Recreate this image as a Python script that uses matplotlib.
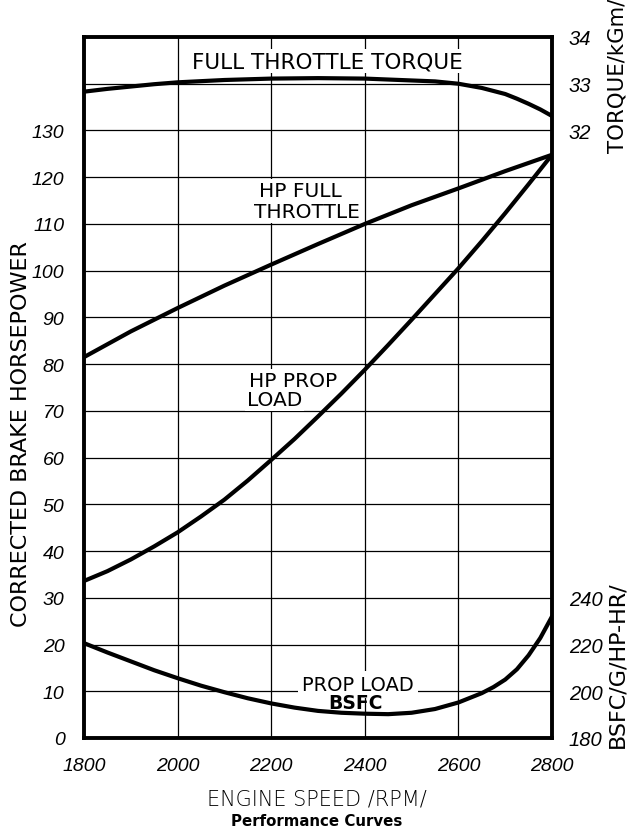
import numpy as np
import matplotlib
matplotlib.use("Agg")
import matplotlib.pyplot as plt

# --- Engine test data ---
rpm = [1800, 1900, 2000, 2100, 2200, 2300, 2400, 2500, 2600, 2700, 2800]
hp_full_throttle = [81.5, 87.0, 92.0, 96.8, 101.3, 105.7, 110.0, 114.0, 117.6, 121.3, 124.8]

prop_rpm = [1800, 1850, 1900, 1950, 2000, 2050, 2100, 2150, 2200, 2250, 2300,
            2350, 2400, 2450, 2500, 2550, 2600, 2650, 2700, 2750, 2800]
hp_prop_load = [33.6, 35.7, 38.2, 41.0, 44.0, 47.4, 51.0, 55.1, 59.5, 64.0, 68.8,
                73.7, 78.8, 84.1, 89.5, 95.0, 100.5, 106.3, 112.3, 118.5, 124.8]

torque_rpm = [1800, 1850, 1900, 1950, 2000, 2100, 2200, 2300, 2400, 2500, 2550,
              2600, 2650, 2700, 2725, 2750, 2775, 2800]
torque_kgm = [32.83, 32.89, 32.94, 32.99, 33.03, 33.08, 33.11, 33.12, 33.11, 33.07, 33.05,
              33.00, 32.91, 32.78, 32.68, 32.57, 32.45, 32.31]

bsfc_rpm = [1800, 1850, 1900, 1950, 2000, 2050, 2100, 2150, 2200, 2250, 2300, 2350,
            2400, 2450, 2500, 2550, 2600, 2650, 2675, 2700, 2725, 2750, 2775, 2800]
bsfc = [220.6, 216.6, 212.8, 209.0, 205.6, 202.4, 199.6, 197.0, 194.8, 193.0, 191.6, 190.8,
        190.4, 190.2, 190.8, 192.4, 195.2, 199.2, 201.8, 205.0, 209.4, 215.4, 222.8, 232.0]

rpm_ticks = [1800, 2000, 2200, 2400, 2600, 2800]
hp_ticks = list(range(0, 140, 10))
torque_ticks = [32, 33, 34]
bsfc_ticks = [180, 200, 220, 240]

TICK_FONT = ["Liberation Sans", "DejaVu Sans"]
LINE_W = 3.0

fig = plt.figure(figsize=(6.28, 8.29), dpi=100)
ax = fig.add_axes([84 / 628, 90 / 829, 468 / 628, 701 / 829])

# grid: one line every 10 hp and every 200 rpm
for y in range(10, 150, 10):
    ax.axhline(y, color="black", lw=0.9, zorder=1)
for x in rpm_ticks[1:-1]:
    ax.axvline(x, color="black", lw=0.9, zorder=1)

ax.plot(rpm, hp_full_throttle, color="black", lw=LINE_W, solid_capstyle="round", zorder=3)
ax.plot(prop_rpm, hp_prop_load, color="black", lw=LINE_W, solid_capstyle="round", zorder=3)

ax.set_xlim(1800, 2800)
ax.set_ylim(0, 150)
ax.set_xticks(rpm_ticks)
ax.set_yticks(hp_ticks)
ax.tick_params(length=0)
ax.tick_params(axis="y", pad=14)
ax.tick_params(axis="x", pad=14)
for lab in ax.get_xticklabels() + ax.get_yticklabels():
    lab.set_family(TICK_FONT)
    lab.set_style("italic")
    lab.set_fontsize(14)
for sp in ax.spines.values():
    sp.set_linewidth(2.8)

# torque scale on the right, upper part
ax_t = ax.twinx()
ax_t.set_ylim(19, 34)
ax_t.plot(torque_rpm, torque_kgm, color="black", lw=LINE_W, solid_capstyle="round", zorder=3)
ax_t.set_yticks(torque_ticks)
ax_t.tick_params(length=0, pad=12)

# bsfc scale on the right, lower part
ax_b = ax.twinx()
ax_b.set_ylim(180, 480)
ax_b.plot(bsfc_rpm, bsfc, color="black", lw=LINE_W, solid_capstyle="round", zorder=3)
ax_b.set_yticks(bsfc_ticks)
ax_b.tick_params(length=0, pad=12)

for a in (ax_t, ax_b):
    for sp in a.spines.values():
        sp.set_visible(False)
    for lab in a.get_yticklabels():
        lab.set_family(TICK_FONT)
        lab.set_style("italic")
        lab.set_fontsize(14.5)

# curve labels
box = dict(facecolor="white", edgecolor="none", pad=1.5)
ax.text(2320, 144.8, "FULL THROTTLE TORQUE", ha="center", va="center",
        fontsize=15.5, family="DejaVu Sans", bbox=box, zorder=2)
ax.text(2262, 117.2, "HP FULL", ha="center", va="center",
        fontsize=14.5, family="DejaVu Sans", bbox=box, zorder=2)
ax.text(2276, 112.6, "THROTTLE", ha="center", va="center",
        fontsize=14.5, family="DejaVu Sans", bbox=box, zorder=2)
ax.text(2152, 76.6, "HP PROP", ha="left", va="center",
        fontsize=14.5, family="DejaVu Sans", bbox=box, zorder=2)
ax.text(2148, 72.5, "LOAD", ha="left", va="center",
        fontsize=14.5, family="DejaVu Sans", bbox=box, zorder=2)
ax.text(2385, 11.4, "PROP LOAD", ha="center", va="center",
        fontsize=14, family="DejaVu Sans", bbox=dict(facecolor="white", edgecolor="none", pad=3), zorder=2)
ax.text(2381, 7.5, "BSFC", ha="center", va="center",
        fontsize=13.5, family="DejaVu Sans", fontweight="bold", zorder=4)

# axis titles
fig.text(21 / 628, 1 - 434 / 829, "CORRECTED BRAKE HORSEPOWER", rotation=90,
         ha="center", va="center", fontsize=16, family="DejaVu Sans")
fig.text(617 / 628, 1 - 153 / 829, "TORQUE/kGm/", rotation=90,
         ha="center", va="bottom", fontsize=15.3, family="DejaVu Sans")
fig.text(617 / 628, 1 - 748 / 829, "BSFC/G/HP-HR/", rotation=90,
         ha="center", va="bottom", fontsize=16, family="DejaVu Sans")
fig.text(317 / 628, 1 - 800 / 829, "ENGINE SPEED /RPM/", ha="center", va="center",
         fontsize=15, family="DejaVu Sans", fontweight="light")
fig.text(317 / 628, 1 - 822 / 829, "Performance Curves", ha="center", va="center",
         fontsize=10.8, family="DejaVu Sans", fontweight="bold")

fig.savefig("out.png", dpi=100, facecolor="white")
